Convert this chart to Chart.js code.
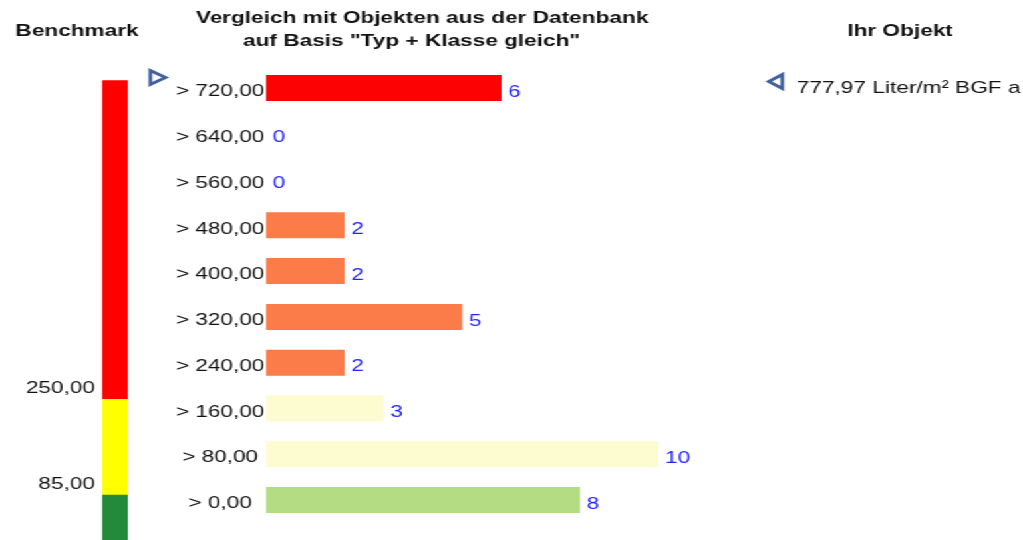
<!DOCTYPE html>
<html><head><meta charset="utf-8">
<script src="https://cdn.jsdelivr.net/npm/chart.js@4/dist/chart.umd.min.js"></script>
<style>
html,body{margin:0;padding:0;background:#fff;overflow:hidden;width:1023px;height:540px}
#wrap{position:absolute;left:0;top:0;width:769px;height:540px;transform:scaleX(1.33029);transform-origin:0 0}
#main{position:absolute;left:0;top:0;width:769px;height:540px}
#bench{position:absolute;left:0;top:0;width:100px;height:560px}
</style></head><body>
<div id="wrap"><div id="main"><canvas id="c1"></canvas></div><div id="bench"><canvas id="c2"></canvas></div></div>
<script>
const categories = ['> 720,00','> 640,00','> 560,00','> 480,00','> 400,00','> 320,00','> 240,00','> 160,00','> 80,00','> 0,00'];
const thresholds = [720,640,560,480,400,320,240,160,80,0];
const counts = [6,0,0,2,2,5,2,3,10,8];
const barColors = ['#fc0202','#fc0202','#fc0202','#fb7c48','#fb7c48','#fb7c48','#fb7c48','#fdfbd0','#fdfbd0','#b4dc82'];
const benchmarkBounds = [0,85,250,800];
const benchmarkColors = ['#248a3b','#ffff00','#ff0000'];
const benchmarkTicks = [85,250];
const objectValue = 777.97;
const objectText = '777,97 Liter/m\u00b2 BGF a';
const headerBenchmark = 'Benchmark';
const headerTitle = ['Vergleich mit Objekten aus der Datenbank','auf Basis "Typ + Klasse gleich"'];
const headerObject = 'Ihr Objekt';

const FONT = '"Liberation Sans", Arial, sans-serif';

const overlay = {
  id: 'overlay',
  afterDatasetsDraw(chart) {
    const ctx = chart.ctx;
    const meta = chart.getDatasetMeta(0);
    ctx.save();
    ctx.font = '17px ' + FONT;
    ctx.fillStyle = '#2323ff';
    ctx.textAlign = 'left';
    ctx.textBaseline = 'middle';
    meta.data.forEach((bar, i) => { ctx.fillText(String(counts[i]), bar.x + 5, bar.y + 4); });

    ctx.font = 'bold 17px ' + FONT;
    ctx.fillStyle = '#111';
    ctx.textAlign = 'center';
    ctx.fillText(headerBenchmark, 57.9, 31);
    ctx.fillText(headerTitle[0], 317.3, 18);
    ctx.fillText(headerTitle[1], 309.4, 41);
    ctx.fillText(headerObject, 676.6, 31);

    const idx = thresholds.findIndex(t => objectValue > t);
    const yc = chart.scales.y.getPixelForValue(idx);
    ctx.strokeStyle = '#41609c';
    ctx.lineWidth = 2.8;
    ctx.lineJoin = 'miter';
    // right-pointing marker next to the category
    ctx.beginPath();
    ctx.moveTo(113.0, yc - 17.5);
    ctx.lineTo(124.5, yc - 10.5);
    ctx.lineTo(113.0, yc - 3.5);
    ctx.closePath();
    ctx.stroke();
    // left-pointing marker next to object value
    ctx.beginPath();
    ctx.moveTo(588, yc - 13.5);
    ctx.lineTo(577.8, yc - 6.5);
    ctx.lineTo(588, yc + 0.5);
    ctx.closePath();
    ctx.stroke();

    ctx.font = '17px ' + FONT;
    ctx.fillStyle = '#111';
    ctx.textAlign = 'left';
    ctx.textBaseline = 'middle';
    ctx.fillText(objectText, 599, yc + 0.5);
    ctx.restore();
  }
};

new Chart(document.getElementById('c1'), {
  type: 'bar',
  data: {
    labels: categories,
    datasets: [{
      data: counts,
      backgroundColor: barColors,
      borderWidth: 0,
      categoryPercentage: 1,
      barPercentage: 0.568
    }]
  },
  options: {
    indexAxis: 'y',
    responsive: true,
    maintainAspectRatio: false,
    animation: false,
    devicePixelRatio: 1,
    layout: { padding: { left: 0, right: 38, top: 65.1, bottom: 17.1 } },
    plugins: { legend: { display: false }, tooltip: { enabled: false }, title: { display: false } },
    scales: {
      x: { display: false, min: 0, max: 18 },
      y: {
        grid: { display: false, drawTicks: false },
        border: { display: false },
        ticks: { crossAlign: 'center', padding: 1.2, labelOffset: 3.5, color: '#111', font: { family: FONT, size: 17 } },
        afterFit(s) { s.width = 200; }
      }
    }
  },
  plugins: [overlay]
});

new Chart(document.getElementById('c2'), {
  type: 'bar',
  data: {
    labels: [''],
    datasets: benchmarkColors.map((c, i) => ({
      data: [[benchmarkBounds[i], benchmarkBounds[i + 1]]],
      backgroundColor: c,
      borderWidth: 0,
      categoryPercentage: 1,
      barPercentage: 1,
      grouped: false
    }))
  },
  options: {
    responsive: true,
    maintainAspectRatio: false,
    animation: false,
    devicePixelRatio: 1,
    layout: { padding: { left: 0, right: 3.8, top: 80.3, bottom: 15.7 } },
    plugins: { legend: { display: false }, tooltip: { enabled: false } },
    scales: {
      x: { display: false },
      y: {
        min: 0, max: 800,
        grid: { display: false, drawTicks: false },
        border: { display: false },
        afterBuildTicks(s) { s.ticks = benchmarkTicks.map(v => ({ value: v })); },
        ticks: {
          padding: 5.3, labelOffset: -11, color: '#111',
          font: { family: FONT, size: 17 },
          callback: v => Number(v).toFixed(2).replace('.', ',')
        },
        afterFit(s) { s.width = 76.7; }
      }
    }
  }
});
</script>
</body></html>
